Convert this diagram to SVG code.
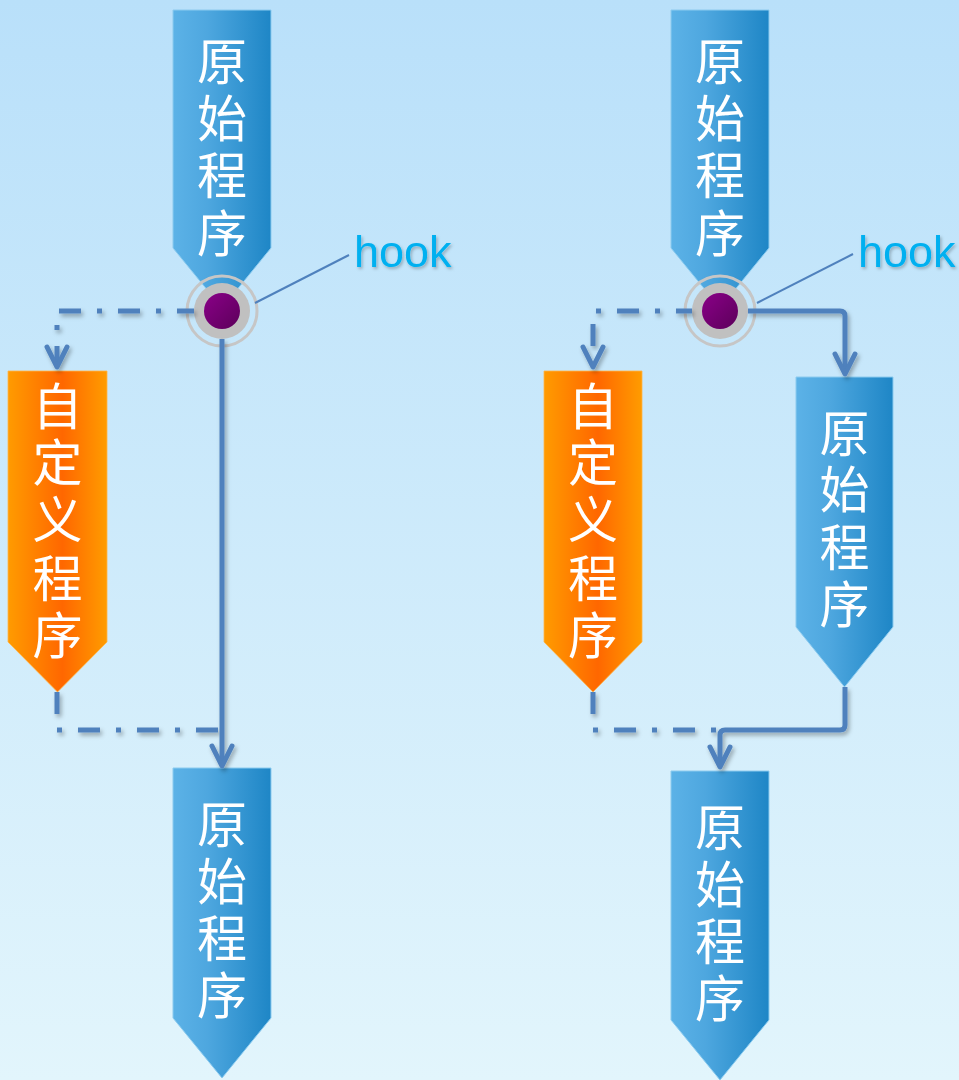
<svg xmlns="http://www.w3.org/2000/svg" width="959" height="1080" viewBox="0 0 959 1080">
<defs>
<linearGradient id="bg" x1="0" y1="0" x2="0" y2="1">
<stop offset="0" stop-color="#B9E0FA"/>
<stop offset="1" stop-color="#E2F5FC"/>
</linearGradient>
<linearGradient id="blue" x1="0" y1="0" x2="1" y2="0">
<stop offset="0" stop-color="#5CB2E7"/>
<stop offset="0.35" stop-color="#4EA7DF"/>
<stop offset="1" stop-color="#1E86C6"/>
</linearGradient>
<linearGradient id="orange" x1="0" y1="0" x2="1" y2="0">
<stop offset="0" stop-color="#FF9B00"/>
<stop offset="0.55" stop-color="#FF6700"/>
<stop offset="1" stop-color="#FF9C00"/>
</linearGradient>
<linearGradient id="purple" x1="0" y1="0" x2="1" y2="1">
<stop offset="0" stop-color="#8A0088"/>
<stop offset="1" stop-color="#5C005A"/>
</linearGradient>
<filter id="shadow" x="-20%" y="-20%" width="140%" height="140%">
<feDropShadow dx="2" dy="3" stdDeviation="2" flood-color="#000" flood-opacity="0.3"/>
</filter>
<filter id="tshadow" x="-20%" y="-20%" width="140%" height="140%">
<feDropShadow dx="1.5" dy="2" stdDeviation="1.5" flood-color="#000" flood-opacity="0.25"/>
</filter>
</defs>
<style>
.bbox{fill:url(#blue);stroke:#8CCBEF;stroke-width:1;}
.obox{fill:url(#orange);stroke:#FFB54A;stroke-width:0.8;}
.lbl{font-family:"Noto Sans CJK SC","Noto Sans CJK JP",sans-serif;font-size:50px;fill:#FFFFFF;text-anchor:middle;}
.line{fill:none;stroke:#4F81BD;stroke-width:5;stroke-linecap:butt;stroke-linejoin:round;}
.dash{stroke-dasharray:22 16 5 16;}
.head{fill:none;stroke:#4F81BD;stroke-width:5;stroke-linecap:round;stroke-linejoin:round;}
.lead{fill:none;stroke:#4F81BD;stroke-width:2;}
.ring{fill:none;stroke:#C6C6C6;stroke-width:3;}
.disk{fill:#C0C0C0;}
.dot{fill:url(#purple);}
.hook{font-family:"Liberation Sans",Arial,sans-serif;font-size:45px;fill:#00B0F0;}
</style>
<rect x="0" y="0" width="959" height="1080" fill="url(#bg)"/>

<g id="node-left-top">
<polygon class="bbox" points="173,10 271,10 271,248 222,308 173,248"/>
<text class="lbl" x="222" y="80">原</text>
<text class="lbl" x="222" y="137">始</text>
<text class="lbl" x="222" y="194">程</text>
<text class="lbl" x="222" y="252">序</text>
</g>
<g id="node-left-custom">
<polygon class="obox" points="8,371 107,371 107,642 57.5,692 8,642"/>
<text class="lbl" x="57.5" y="425">自</text>
<text class="lbl" x="57.5" y="481">定</text>
<text class="lbl" x="57.5" y="538">义</text>
<text class="lbl" x="57.5" y="597">程</text>
<text class="lbl" x="57.5" y="654">序</text>
</g>
<g id="node-left-bottom">
<polygon class="bbox" points="173,768 271,768 271,1018 222,1078 173,1018"/>
<text class="lbl" x="222" y="843">原</text>
<text class="lbl" x="222" y="900">始</text>
<text class="lbl" x="222" y="957">程</text>
<text class="lbl" x="222" y="1014">序</text>
</g>
<g id="node-right-top">
<polygon class="bbox" points="671,10 769,10 769,248 720,308 671,248"/>
<text class="lbl" x="720" y="80">原</text>
<text class="lbl" x="720" y="137">始</text>
<text class="lbl" x="720" y="194">程</text>
<text class="lbl" x="720" y="252">序</text>
</g>
<g id="node-right-custom">
<polygon class="obox" points="544,371 642,371 642,642 593,692 544,642"/>
<text class="lbl" x="593" y="425">自</text>
<text class="lbl" x="593" y="481">定</text>
<text class="lbl" x="593" y="538">义</text>
<text class="lbl" x="593" y="597">程</text>
<text class="lbl" x="593" y="654">序</text>
</g>
<g id="node-right-middle">
<polygon class="bbox" points="796,377 893,377 893,627 844.5,687 796,627"/>
<text class="lbl" x="844.5" y="452">原</text>
<text class="lbl" x="844.5" y="508">始</text>
<text class="lbl" x="844.5" y="566">程</text>
<text class="lbl" x="844.5" y="623">序</text>
</g>
<g id="node-right-bottom">
<polygon class="bbox" points="671,771 769,771 769,1020 720,1080 671,1020"/>
<text class="lbl" x="720" y="846">原</text>
<text class="lbl" x="720" y="903">始</text>
<text class="lbl" x="720" y="960">程</text>
<text class="lbl" x="720" y="1017">序</text>
</g>

<g id="node-hook-left">
<circle class="ring" cx="222" cy="311" r="35"/>
<circle class="disk" cx="222" cy="311" r="28"/>
<circle class="dot" cx="222" cy="311" r="18"/>
</g>
<g id="node-hook-right">
<circle class="ring" cx="720" cy="311" r="35"/>
<circle class="disk" cx="720" cy="311" r="28"/>
<circle class="dot" cx="720" cy="311" r="18"/>
</g>

<g id="connectors">
<g filter="url(#shadow)">
<path class="line dash" stroke-dashoffset="2" d="M57,366 V311 H194"/>
<path class="head" d="M47,347 L57,367 L67,347"/>
<path class="line" d="M222,339 V764"/>
<path class="head" d="M212,746 L222,766 L232,746"/>
<path class="line dash" d="M57,692 V730 H218"/>
<path class="line dash" stroke-dashoffset="39" d="M593,366 V311 H692"/>
<path class="head" d="M583,347 L593,367 L603,347"/>
<path class="line" d="M748,311 H840 Q845,311 845,316 V372"/>
<path class="head" d="M835,354 L845,374 L855,354"/>
<path class="line dash" d="M593,692 V730 H717"/>
<path class="line" d="M845,687 V725 Q845,730 840,730 H725 Q720,730 720,735 V765"/>
<path class="head" d="M710,747 L720,767 L730,747"/>
</g>
<path class="lead" d="M255,303 L349,255"/>
<path class="lead" d="M757,303 L853,254"/>
</g>

<g id="label-hook-left">
<text class="hook" x="354" y="267" filter="url(#tshadow)">hook</text>
</g>
<g id="label-hook-right">
<text class="hook" x="858" y="267" filter="url(#tshadow)">hook</text>
</g>
</svg>
